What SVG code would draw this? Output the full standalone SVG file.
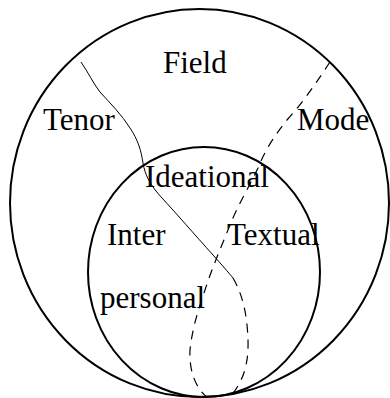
<svg xmlns="http://www.w3.org/2000/svg" width="390" height="398" viewBox="0 0 390 398">
<style>
.c{fill:none;stroke:#000;stroke-width:2}
.s{fill:none;stroke:#000;stroke-width:1}
.d{fill:none;stroke:#000;stroke-width:1.2;stroke-dasharray:9 7}
text{font-family:"Liberation Serif","Times New Roman",serif;font-size:31px;fill:#000}
</style>
<rect width="390" height="398" fill="#fff"/>
<g id="outer"><ellipse class="c" cx="199.5" cy="203" rx="189.5" ry="194"/></g>
<g id="inner"><ellipse class="c" cx="204" cy="272" rx="116" ry="125"/></g>
<g id="connectors">
<path class="s" d="M81,62 C88,72 93,83 100,92 C110,103 122,115 130,128 C138,140 141,150 143,163 C145,175 150,185 162,198 C175,212 195,235 213,255 C222,265 228,272 233,278"/>
<path class="d" d="M233,278 C240,290 245,305 247,325 C249,345 249,365 240,382 C236,390 232,395 228,398"/>
<path class="d" d="M330,62 C318,80 305,100 287,120 C275,135 265,150 258,168 C250,185 238,205 230,225 C222,245 212,268 205,290 C198,310 192,330 190,350 C189,370 195,388 208,398"/>
</g>
<g id="labels">
<text x="163" y="73">Field</text>
<text x="43" y="130">Tenor</text>
<text x="297" y="130">Mode</text>
<text x="145" y="187">Ideational</text>
<text x="107" y="245">Inter</text>
<text x="227" y="245">Textual</text>
<text x="100" y="308">personal</text>
</g>
</svg>
